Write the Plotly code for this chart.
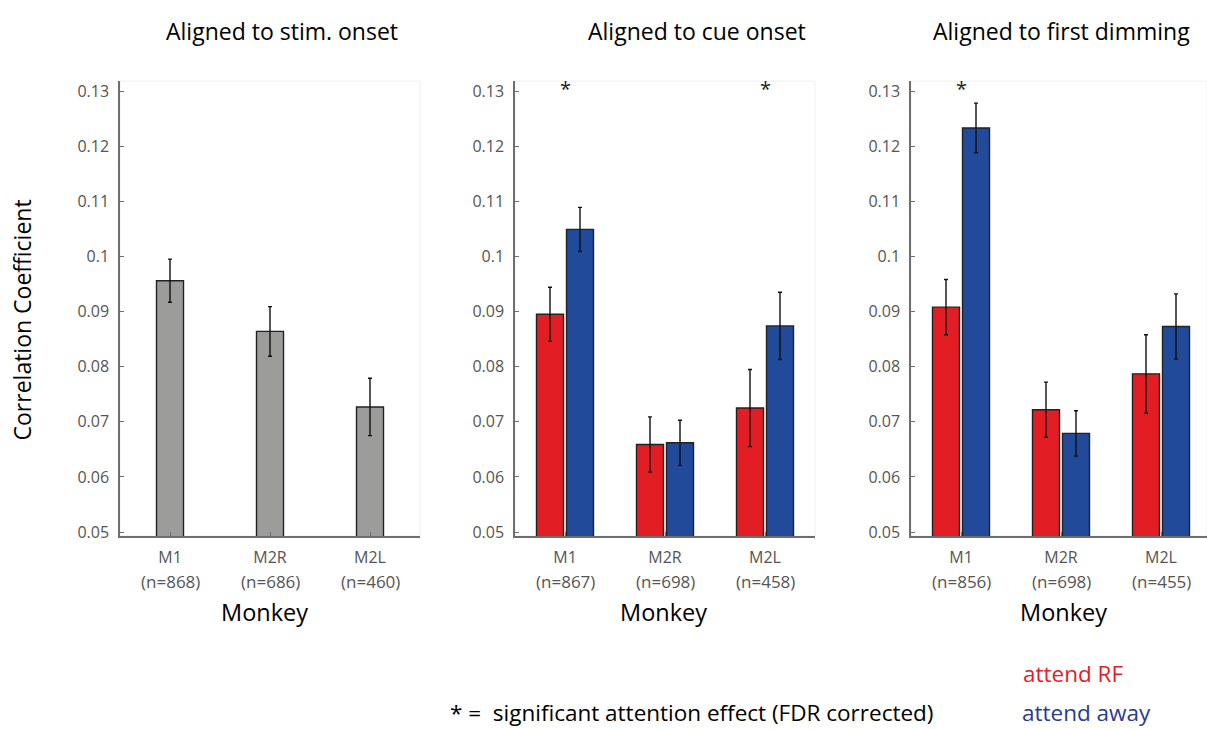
import plotly.graph_objects as go

W, H = 1207, 729

# ---- data ----
monkeys = ["M1", "M2R", "M2L"]
n_stim = [868, 686, 460]
n_cue = [867, 698, 458]
n_dim = [856, 698, 455]

stim_mean = [0.0956, 0.0864, 0.0727]
stim_err = [0.0039, 0.0045, 0.0052]

cue_rf = [0.0895, 0.0659, 0.0725]
cue_rf_err = [0.0049, 0.0050, 0.0070]
cue_away = [0.1049, 0.0662, 0.0874]
cue_away_err = [0.0040, 0.0041, 0.0061]

dim_rf = [0.0908, 0.0722, 0.0787]
dim_rf_err = [0.0050, 0.0050, 0.0071]
dim_away = [0.1233, 0.0679, 0.0873]
dim_away_err = [0.0045, 0.0041, 0.0059]

cue_sig = [True, False, True]
dim_sig = [True, False, False]

ytick_vals = [0.05, 0.06, 0.07, 0.08, 0.09, 0.10, 0.11, 0.12, 0.13]
ytick_text = ["0.05", "0.06", "0.07", "0.08", "0.09", "0.1", "0.11", "0.12", "0.13"]

panel_titles = ["Aligned to stim. onset", "Aligned to cue onset", "Aligned to first dimming"]

# ---- style ----
RED = "#e31d24"
BLUE = "#214b9a"
GRAY = "#9c9c9a"
AXIS = "#6e6e6e"
TICKTXT = "#555555"
FONT = "Open Sans"

xpos = [1, 2, 3]


def px_x(p):
    return p / W


def px_y(p):
    return 1 - p / H


# plot areas (pixels): left edges, 300 px per 3 categories
lefts = [120, 515, 911]
y_top_px, y_bot_px = 81, 541
px_per_unit = (537 - 91) / 0.08
ydom = [px_y(y_bot_px), px_y(y_top_px)]
y_range = [0.05 - (y_bot_px - 537) / px_per_unit, 0.13 + (91 - y_top_px) / px_per_unit]

fig = go.Figure()

err_style = dict(type="data", color="#111111", thickness=1.4, width=2)
bar_line = dict(color="#222222", width=1.4)

# panel 1: single gray bars
fig.add_trace(go.Bar(
    x=xpos, y=stim_mean, width=0.27, marker=dict(color=GRAY, line=bar_line),
    error_y=dict(array=stim_err, **err_style), xaxis="x", yaxis="y",
    showlegend=False))

# panels 2 and 3: attend RF vs attend away
for ax, rf, rf_e, aw, aw_e in [("2", cue_rf, cue_rf_err, cue_away, cue_away_err),
                              ("3", dim_rf, dim_rf_err, dim_away, dim_away_err)]:
    fig.add_trace(go.Bar(
        x=xpos, y=rf, marker=dict(color=RED, line=bar_line),
        error_y=dict(array=rf_e, **err_style), xaxis="x" + ax, yaxis="y" + ax,
        showlegend=False, offsetgroup="rf"))
    fig.add_trace(go.Bar(
        x=xpos, y=aw, marker=dict(color=BLUE, line=bar_line),
        error_y=dict(array=aw_e, **err_style), xaxis="x" + ax, yaxis="y" + ax,
        showlegend=False, offsetgroup="away"))

layout = dict(
    width=W, height=H, margin=dict(l=0, r=0, t=0, b=0),
    paper_bgcolor="white", plot_bgcolor="white",
    barmode="group", bargap=0.4, bargroupgap=0.1,
    font=dict(family=FONT, color="black"),
)


def text_note(x, y, text, size, color="black", xanchor="center", **kw):
    return dict(x=x, y=y, xref=kw.pop("xref", "paper"), yref=kw.pop("yref", "paper"),
                text=text, showarrow=False, xanchor=xanchor, yanchor="middle",
                font=dict(size=size, color=color, family=FONT), **kw)


annotations = []
shapes = []
n_lists = [n_stim, n_cue, n_dim]
monkey_centers = [264, 663, 1063]
for i, left in enumerate(lefts):
    suffix = "" if i == 0 else str(i + 1)
    right = min(left + 300, W)
    xr = [0.5, 0.5 + (right - left) / 100]
    layout["xaxis" + suffix] = dict(
        domain=[px_x(left), px_x(right)], range=xr, anchor="y" + suffix,
        tickvals=xpos, ticktext=monkeys, ticks="inside", ticklen=4,
        tickcolor=AXIS, showline=True, linecolor=AXIS, linewidth=1.5,
        showgrid=False, zeroline=False, ticklabelstandoff=6,
        tickfont=dict(size=16, color=TICKTXT, family=FONT))
    layout["yaxis" + suffix] = dict(
        domain=ydom, range=y_range, anchor="x" + suffix,
        tickvals=ytick_vals, ticktext=ytick_text, ticks="inside", ticklen=4,
        tickcolor=AXIS, showline=True, linecolor=AXIS, linewidth=1.5,
        showgrid=False, zeroline=False, ticklabelstandoff=6,
        tickfont=dict(size=16, color=TICKTXT, family=FONT))
    # faint frame on top/right
    shapes.append(dict(type="rect", xref="x" + suffix + " domain", yref="y" + suffix + " domain",
                       x0=0, x1=1, y0=0, y1=1, line=dict(color="#efefef", width=1), layer="below"))
    # sample sizes under the monkey labels
    for xv, n in zip(xpos, n_lists[i]):
        annotations.append(text_note(xv, px_y(587), f"(n={n})", 17, TICKTXT, xref="x" + suffix))
    # axis title
    annotations.append(text_note(px_x(monkey_centers[i]), px_y(618), "Monkey", 23.5))

title_centers = [282, 697, 1061]
for t, c in zip(panel_titles, title_centers):
    annotations.append(text_note(px_x(c), px_y(30), t, 23))

# significance stars
for ax, sig in [("2", cue_sig), ("3", dim_sig)]:
    for xv, s in zip(xpos, sig):
        if s:
            annotations.append(text_note(xv, 0.1305, "*", 20, "#222222",
                                         xref="x" + ax, yref="y" + ax))

annotations.append(text_note(px_x(22), px_y(323), "Correlation Coefficient", 23, textangle=-90))

annotations.append(text_note(px_x(1021), px_y(680), "attend RF", 22.5, RED, xanchor="left"))
annotations.append(text_note(px_x(1020), px_y(719), "attend away", 22.5, "#2b3a8f", xanchor="left"))
annotations.append(text_note(px_x(448), px_y(719),
                             "* =  significant attention effect (FDR corrected)", 22.5,
                             xanchor="left"))

layout["annotations"] = annotations
layout["shapes"] = shapes
fig.update_layout(**layout)

fig.write_html("out.html")
